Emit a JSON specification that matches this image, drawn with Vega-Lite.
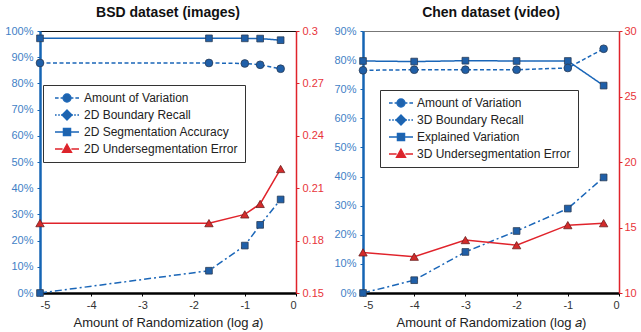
{
  "$schema": "https://vega.github.io/schema/vega-lite/v6.json",
  "padding": {"left": 4, "top": 5, "right": 0, "bottom": 0},
  "spacing": 9,
  "config": {
    "font": "Liberation Sans",
    "title": {"fontSize": 14, "fontWeight": "bold", "color": "#111", "offset": 5, "anchor": "middle"},
    "axis": {"grid": false, "labelFont": "Liberation Sans", "titleFont": "Liberation Sans"},
    "legend": {"labelFont": "Liberation Sans"}
  },
  "datasets": {
    "bsd": [
      {"series": "Amount of Variation", "x": -5, "value": 0.0},
      {"series": "Amount of Variation", "x": -1.7, "value": 0.085},
      {"series": "Amount of Variation", "x": -1, "value": 0.181},
      {"series": "Amount of Variation", "x": -0.7, "value": 0.26},
      {"series": "Amount of Variation", "x": -0.3, "value": 0.357},
      {"series": "2D Boundary Recall", "x": -5, "value": 0.878},
      {"series": "2D Boundary Recall", "x": -1.7, "value": 0.878},
      {"series": "2D Boundary Recall", "x": -1, "value": 0.876},
      {"series": "2D Boundary Recall", "x": -0.7, "value": 0.871},
      {"series": "2D Boundary Recall", "x": -0.3, "value": 0.856},
      {"series": "2D Segmentation Accuracy", "x": -5, "value": 0.972},
      {"series": "2D Segmentation Accuracy", "x": -1.7, "value": 0.972},
      {"series": "2D Segmentation Accuracy", "x": -1, "value": 0.972},
      {"series": "2D Segmentation Accuracy", "x": -0.7, "value": 0.971},
      {"series": "2D Segmentation Accuracy", "x": -0.3, "value": 0.965},
      {"series": "2D Undersegmentation Error", "x": -5, "value": 0.190},
      {"series": "2D Undersegmentation Error", "x": -1.7, "value": 0.190},
      {"series": "2D Undersegmentation Error", "x": -1, "value": 0.195},
      {"series": "2D Undersegmentation Error", "x": -0.7, "value": 0.201},
      {"series": "2D Undersegmentation Error", "x": -0.3, "value": 0.221}
    ],
    "chen": [
      {"series": "Amount of Variation", "x": -5, "value": 0.0},
      {"series": "Amount of Variation", "x": -4, "value": 0.044},
      {"series": "Amount of Variation", "x": -3, "value": 0.141},
      {"series": "Amount of Variation", "x": -2, "value": 0.213},
      {"series": "Amount of Variation", "x": -1, "value": 0.29},
      {"series": "Amount of Variation", "x": -0.3, "value": 0.397},
      {"series": "3D Boundary Recall", "x": -5, "value": 0.765},
      {"series": "3D Boundary Recall", "x": -4, "value": 0.767},
      {"series": "3D Boundary Recall", "x": -3, "value": 0.767},
      {"series": "3D Boundary Recall", "x": -2, "value": 0.767},
      {"series": "3D Boundary Recall", "x": -1, "value": 0.773},
      {"series": "3D Boundary Recall", "x": -0.3, "value": 0.839},
      {"series": "Explained Variation", "x": -5, "value": 0.797},
      {"series": "Explained Variation", "x": -4, "value": 0.795},
      {"series": "Explained Variation", "x": -3, "value": 0.798},
      {"series": "Explained Variation", "x": -2, "value": 0.797},
      {"series": "Explained Variation", "x": -1, "value": 0.797},
      {"series": "Explained Variation", "x": -0.3, "value": 0.7125},
      {"series": "3D Undersegmentation Error", "x": -5, "value": 13.1},
      {"series": "3D Undersegmentation Error", "x": -4, "value": 12.77},
      {"series": "3D Undersegmentation Error", "x": -3, "value": 14.04},
      {"series": "3D Undersegmentation Error", "x": -2, "value": 13.65},
      {"series": "3D Undersegmentation Error", "x": -1, "value": 15.18},
      {"series": "3D Undersegmentation Error", "x": -0.3, "value": 15.33}
    ]
  },
  "hconcat": [
    {
      "width": 256,
      "height": 262,
      "title": "BSD dataset (images)",
      "data": {"name": "bsd"},
      "view": {"stroke": "#111", "strokeWidth": 1},
      "layer": [
        {
          "mark": {"type": "point", "filled": true, "opacity": 0, "size": 64},
          "encoding": {
            "color": {"field": "series", "type": "nominal",
              "scale": {"domain": ["Amount of Variation", "2D Boundary Recall", "2D Segmentation Accuracy", "2D Undersegmentation Error"], "range": ["#1f63ad", "#1f63ad", "#1f63ad", "#d8262c"]},
              "legend": {"orient": "none", "legendX": 3, "legendY": 54, "title": null, "fillColor": "white", "strokeColor": "#333", "padding": 7, "labelFontSize": 12, "labelColor": "#222", "symbolSize": 64, "symbolStrokeWidth": 1.3, "symbolOffset": 11, "labelOffset": 11, "rowPadding": 2, "symbolOpacity": 1, "labelLimit": 300}},
            "stroke": {"field": "series", "type": "nominal",
              "scale": {"domain": ["Amount of Variation", "2D Boundary Recall", "2D Segmentation Accuracy", "2D Undersegmentation Error"], "range": ["#1a66b8", "#1a66b8", "#1a66b8", "#e0232b"]},
              "legend": {"orient": "none", "legendX": 3, "legendY": 54, "title": null, "fillColor": "white", "strokeColor": "#333", "padding": 7, "labelFontSize": 12, "labelColor": "#222", "symbolSize": 64, "symbolStrokeWidth": 1.3, "symbolOffset": 11, "labelOffset": 11, "rowPadding": 2, "symbolOpacity": 1, "labelLimit": 300}},
            "shape": {"field": "series", "type": "nominal",
              "scale": {"domain": ["Amount of Variation", "2D Boundary Recall", "2D Segmentation Accuracy", "2D Undersegmentation Error"],
                "range": [
                  "M-3,0H-2.1M-1.6,0H-1M1,0H1.6M2.1,0H3M1,0A1,1 0 1 1 -1,0A1,1 0 1 1 1,0Z",
                  "M-3,0H-2.6M-2.2,0H-1.8M-1.5,0H-1.2M1.2,0H1.5M1.8,0H2.2M2.6,0H3M0,-1.25L1.25,0L0,1.25L-1.25,0Z",
                  "M-3,0H-0.9M0.9,0H3M-0.9,-0.9H0.9V0.9H-0.9Z",
                  "M-3,0H-1.1M1.1,0H3M0,-1.2L1.15,0.85H-1.15Z"
                ]},
              "legend": {"orient": "none", "legendX": 3, "legendY": 54, "title": null, "fillColor": "white", "strokeColor": "#333", "padding": 7, "labelFontSize": 12, "labelColor": "#222", "symbolSize": 64, "symbolStrokeWidth": 1.3, "symbolOffset": 11, "labelOffset": 11, "rowPadding": 2, "symbolOpacity": 1, "labelLimit": 300}}
          }
        },
        {
          "transform": [{"filter": "datum.series !== '2D Undersegmentation Error'"}],
          "mark": {"type": "line", "color": "#1a66b8", "strokeWidth": 1.5},
          "encoding": {
            "x": {"field": "x", "type": "quantitative", "scale": {"domain": [-5, 0], "nice": false},
              "axis": {"values": [-5, -4, -3, -2, -1, 0], "labelExpr": "'' + datum.value", "domainColor": "#000", "domainWidth": 2.5, "tickColor": "#000", "tickSize": 3, "labelPadding": 3, "labelColor": "#333", "labelFontSize": 11, "title": "Amount of Randomization (log 𝑎)", "titleFontSize": 13, "titleFontWeight": "normal", "titleColor": "#222", "titlePadding": 6}},
            "y": {"field": "value", "type": "quantitative", "scale": {"domain": [0, 1], "nice": false},
              "axis": {"orient": "left", "values": [0, 0.1, 0.2, 0.3, 0.4, 0.5, 0.6, 0.7, 0.8, 0.9, 1], "format": ".0%", "domainColor": "#1565b4", "domainWidth": 2.5, "tickColor": "#1565b4", "tickSize": 3, "labelPadding": 4, "labelColor": "#3f7fc6", "labelFontSize": 11, "title": null}},
            "strokeDash": {"field": "series", "type": "nominal", "legend": null,
              "scale": {"domain": ["Amount of Variation", "2D Boundary Recall", "2D Segmentation Accuracy"], "range": [[7, 3, 2, 3], [4, 2.5], [1, 0]]}}
          }
        },
        {
          "transform": [{"filter": "datum.series === 'Amount of Variation' || datum.series === '2D Segmentation Accuracy'"}],
          "mark": {"type": "point", "shape": "square", "filled": true, "size": 45, "color": "#1f5fa8", "stroke": "#2b3c55", "strokeWidth": 0.8, "opacity": 1},
          "encoding": {
            "x": {"field": "x", "type": "quantitative"},
            "y": {"field": "value", "type": "quantitative", "scale": {"domain": [0, 1], "nice": false}, "axis": null}
          }
        },
        {
          "transform": [{"filter": "datum.series === '2D Boundary Recall'"}],
          "mark": {"type": "point", "shape": "circle", "filled": true, "size": 60, "color": "#1f5fa8", "stroke": "#2b3c55", "strokeWidth": 0.8, "opacity": 1},
          "encoding": {
            "x": {"field": "x", "type": "quantitative"},
            "y": {"field": "value", "type": "quantitative", "scale": {"domain": [0, 1], "nice": false}, "axis": null}
          }
        },
        {
          "transform": [{"filter": "datum.series === '2D Undersegmentation Error'"}],
          "mark": {"type": "line", "color": "#e0232b", "strokeWidth": 1.5},
          "encoding": {
            "x": {"field": "x", "type": "quantitative"},
            "y": {"field": "value", "type": "quantitative", "scale": {"domain": [0.15, 0.3], "nice": false},
              "axis": {"orient": "right", "values": [0.15, 0.18, 0.21, 0.24, 0.27, 0.3], "format": ".2~f", "domainColor": "#e0232b", "domainWidth": 1.5, "tickColor": "#e0232b", "tickSize": 3, "labelPadding": 3, "labelColor": "#e8343a", "labelFontSize": 11, "title": null}}
          }
        },
        {
          "transform": [{"filter": "datum.series === '2D Undersegmentation Error'"}],
          "mark": {"type": "point", "shape": "triangle-up", "filled": true, "size": 70, "color": "#d42a2a", "stroke": "#6b2020", "strokeWidth": 0.8, "opacity": 1},
          "encoding": {
            "x": {"field": "x", "type": "quantitative"},
            "y": {"field": "value", "type": "quantitative", "scale": {"domain": [0.15, 0.3], "nice": false}, "axis": null}
          }
        }
      ],
      "resolve": {"scale": {"y": "independent"}}
    },
    {
      "width": 256,
      "height": 262,
      "title": "Chen dataset (video)",
      "data": {"name": "chen"},
      "view": {"stroke": "#777", "strokeWidth": 1},
      "layer": [
        {
          "mark": {"type": "point", "filled": true, "opacity": 0, "size": 64},
          "encoding": {
            "color": {"field": "series", "type": "nominal",
              "scale": {"domain": ["Amount of Variation", "3D Boundary Recall", "Explained Variation", "3D Undersegmentation Error"], "range": ["#1f63ad", "#1f63ad", "#1f63ad", "#d8262c"]},
              "legend": {"orient": "none", "legendX": 17, "legendY": 59, "title": null, "fillColor": "white", "strokeColor": "#333", "padding": 7, "labelFontSize": 12, "labelColor": "#222", "symbolSize": 64, "symbolStrokeWidth": 1.3, "symbolOffset": 8, "labelOffset": 10, "rowPadding": 2, "symbolOpacity": 1, "labelLimit": 300}},
            "stroke": {"field": "series", "type": "nominal",
              "scale": {"domain": ["Amount of Variation", "3D Boundary Recall", "Explained Variation", "3D Undersegmentation Error"], "range": ["#1a66b8", "#1a66b8", "#1a66b8", "#e0232b"]},
              "legend": {"orient": "none", "legendX": 17, "legendY": 59, "title": null, "fillColor": "white", "strokeColor": "#333", "padding": 7, "labelFontSize": 12, "labelColor": "#222", "symbolSize": 64, "symbolStrokeWidth": 1.3, "symbolOffset": 8, "labelOffset": 10, "rowPadding": 2, "symbolOpacity": 1, "labelLimit": 300}},
            "shape": {"field": "series", "type": "nominal",
              "scale": {"domain": ["Amount of Variation", "3D Boundary Recall", "Explained Variation", "3D Undersegmentation Error"],
                "range": [
                  "M-3,0H-2.1M-1.6,0H-1M1,0H1.6M2.1,0H3M1,0A1,1 0 1 1 -1,0A1,1 0 1 1 1,0Z",
                  "M-3,0H-2.6M-2.2,0H-1.8M-1.5,0H-1.2M1.2,0H1.5M1.8,0H2.2M2.6,0H3M0,-1.25L1.25,0L0,1.25L-1.25,0Z",
                  "M-3,0H-0.9M0.9,0H3M-0.9,-0.9H0.9V0.9H-0.9Z",
                  "M-3,0H-1.1M1.1,0H3M0,-1.2L1.15,0.85H-1.15Z"
                ]},
              "legend": {"orient": "none", "legendX": 17, "legendY": 59, "title": null, "fillColor": "white", "strokeColor": "#333", "padding": 7, "labelFontSize": 12, "labelColor": "#222", "symbolSize": 64, "symbolStrokeWidth": 1.3, "symbolOffset": 8, "labelOffset": 10, "rowPadding": 2, "symbolOpacity": 1, "labelLimit": 300}}
          }
        },
        {
          "transform": [{"filter": "datum.series !== '3D Undersegmentation Error'"}],
          "mark": {"type": "line", "color": "#1a66b8", "strokeWidth": 1.5},
          "encoding": {
            "x": {"field": "x", "type": "quantitative", "scale": {"domain": [-5, 0], "nice": false},
              "axis": {"values": [-5, -4, -3, -2, -1, 0], "labelExpr": "'' + datum.value", "domainColor": "#000", "domainWidth": 2.5, "tickColor": "#000", "tickSize": 3, "labelPadding": 3, "labelColor": "#333", "labelFontSize": 11, "title": "Amount of Randomization (log 𝑎)", "titleFontSize": 13, "titleFontWeight": "normal", "titleColor": "#222", "titlePadding": 6}},
            "y": {"field": "value", "type": "quantitative", "scale": {"domain": [0, 0.9], "nice": false},
              "axis": {"orient": "left", "values": [0, 0.1, 0.2, 0.3, 0.4, 0.5, 0.6, 0.7, 0.8, 0.9], "format": ".0%", "domainColor": "#1565b4", "domainWidth": 2.5, "tickColor": "#1565b4", "tickSize": 3, "labelPadding": 4, "labelColor": "#3f7fc6", "labelFontSize": 11, "title": null}},
            "strokeDash": {"field": "series", "type": "nominal", "legend": null,
              "scale": {"domain": ["Amount of Variation", "3D Boundary Recall", "Explained Variation"], "range": [[7, 3, 2, 3], [4, 2.5], [1, 0]]}}
          }
        },
        {
          "transform": [{"filter": "datum.series === 'Amount of Variation' || datum.series === 'Explained Variation'"}],
          "mark": {"type": "point", "shape": "square", "filled": true, "size": 45, "color": "#1f5fa8", "stroke": "#2b3c55", "strokeWidth": 0.8, "opacity": 1},
          "encoding": {
            "x": {"field": "x", "type": "quantitative"},
            "y": {"field": "value", "type": "quantitative", "scale": {"domain": [0, 0.9], "nice": false}, "axis": null}
          }
        },
        {
          "transform": [{"filter": "datum.series === '3D Boundary Recall'"}],
          "mark": {"type": "point", "shape": "circle", "filled": true, "size": 60, "color": "#1f5fa8", "stroke": "#2b3c55", "strokeWidth": 0.8, "opacity": 1},
          "encoding": {
            "x": {"field": "x", "type": "quantitative"},
            "y": {"field": "value", "type": "quantitative", "scale": {"domain": [0, 0.9], "nice": false}, "axis": null}
          }
        },
        {
          "transform": [{"filter": "datum.series === '3D Undersegmentation Error'"}],
          "mark": {"type": "line", "color": "#e0232b", "strokeWidth": 1.5},
          "encoding": {
            "x": {"field": "x", "type": "quantitative"},
            "y": {"field": "value", "type": "quantitative", "scale": {"domain": [10, 30], "nice": false},
              "axis": {"orient": "right", "values": [10, 15, 20, 25, 30], "domainColor": "#e0232b", "domainWidth": 1.5, "tickColor": "#e0232b", "tickSize": 3, "labelPadding": 2, "labelColor": "#e8343a", "labelFontSize": 11, "title": null}}
          }
        },
        {
          "transform": [{"filter": "datum.series === '3D Undersegmentation Error'"}],
          "mark": {"type": "point", "shape": "triangle-up", "filled": true, "size": 70, "color": "#d42a2a", "stroke": "#6b2020", "strokeWidth": 0.8, "opacity": 1},
          "encoding": {
            "x": {"field": "x", "type": "quantitative"},
            "y": {"field": "value", "type": "quantitative", "scale": {"domain": [10, 30], "nice": false}, "axis": null}
          }
        }
      ],
      "resolve": {"scale": {"y": "independent"}}
    }
  ],
  "resolve": {"scale": {"color": "independent", "stroke": "independent", "shape": "independent", "strokeDash": "independent"}, "legend": {"color": "independent", "stroke": "independent", "shape": "independent"}}
}
